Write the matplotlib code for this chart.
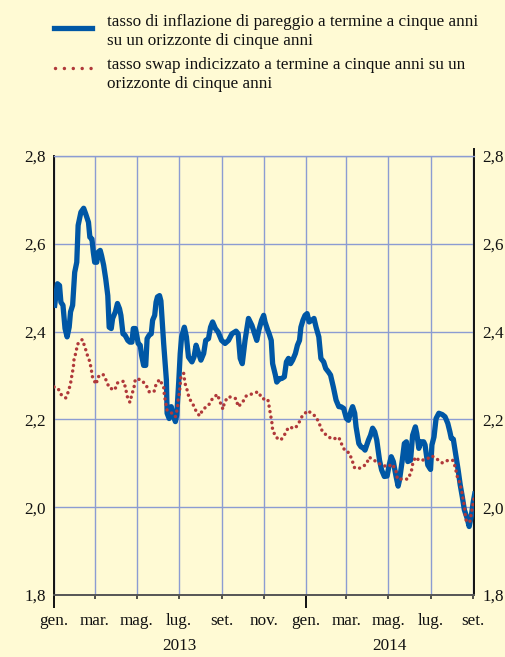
import numpy as np
import pandas as pd
import matplotlib
matplotlib.use('Agg')
import matplotlib.pyplot as plt
import matplotlib.dates as mdates
import matplotlib.transforms as mtransforms
from matplotlib.lines import Line2D
from matplotlib.ticker import FuncFormatter

plt.rcParams['font.family'] = ['Liberation Serif', 'DejaVu Serif']

# giorni dal 1 gennaio 2013
be_days = [1, 5, 8, 10, 13, 16, 19, 22, 24, 27, 30, 33, 35, 39, 43, 46, 50, 52, 55, 57,
           59, 62, 64, 67, 69, 72, 75, 78, 80, 83, 85, 89, 92, 95, 97, 100, 103, 107, 110, 113,
           115, 118, 120, 122, 125, 127, 130, 133, 135, 138, 141, 143, 146, 148, 150, 153, 155, 159, 163, 164,
           167, 170, 172, 176, 178, 181, 183, 185, 189, 192, 195, 200, 203, 206, 209, 213, 217, 220, 224, 227,
           230, 234, 238, 243, 248, 253, 258, 264, 267, 270, 273, 277, 282, 287, 291, 294, 297, 301, 304, 306,
           310, 312, 315, 317, 321, 323, 327, 330, 334, 337, 340, 343, 346, 350, 353, 356, 358, 361, 364, 367,
           370, 374, 377, 380, 384, 387, 391, 394, 398, 401, 405, 409, 413, 416, 420, 424, 427, 431, 433, 436,
           438, 442, 445, 449, 451, 456, 459, 462, 465, 468, 472, 475, 479, 483, 486, 489, 492, 496, 499, 501,
           505, 508, 511, 513, 517, 520, 524, 526, 529, 532, 536, 538, 542, 546, 548, 551, 554, 558, 563, 567,
           571, 574, 576, 579, 583, 586, 589, 592, 595, 599, 602, 605, 608, 610]
be_vals = [2.46, 2.509, 2.505, 2.467, 2.46, 2.407, 2.388, 2.41, 2.445, 2.46, 2.535, 2.558, 2.642, 2.672, 2.681, 2.668, 2.649, 2.615, 2.611, 2.581,
           2.558, 2.558, 2.581, 2.585, 2.573, 2.551, 2.52, 2.482, 2.41, 2.407, 2.43, 2.445, 2.464, 2.452, 2.437, 2.395, 2.392, 2.38, 2.376, 2.376,
           2.407, 2.407, 2.392, 2.373, 2.369, 2.346, 2.323, 2.323, 2.384, 2.392, 2.395, 2.426, 2.437, 2.467, 2.479, 2.482, 2.47, 2.373, 2.289, 2.214,
           2.202, 2.229, 2.214, 2.195, 2.21, 2.289, 2.35, 2.388, 2.41, 2.388, 2.342, 2.331, 2.342, 2.369, 2.354, 2.335, 2.35, 2.38, 2.384, 2.41,
           2.422, 2.407, 2.399, 2.38, 2.373, 2.38, 2.395, 2.401, 2.395, 2.339, 2.327, 2.38, 2.43, 2.414, 2.395, 2.38, 2.403, 2.426, 2.437, 2.422,
           2.403, 2.395, 2.38, 2.327, 2.301, 2.285, 2.293, 2.293, 2.297, 2.331, 2.339, 2.327, 2.335, 2.35, 2.369, 2.38, 2.41, 2.426, 2.437, 2.441,
           2.422, 2.426, 2.43, 2.41, 2.388, 2.339, 2.331, 2.316, 2.308, 2.301, 2.274, 2.244, 2.229, 2.229, 2.225, 2.202, 2.198, 2.221, 2.229, 2.214,
           2.183, 2.145, 2.138, 2.134, 2.13, 2.153, 2.164, 2.18, 2.172, 2.153, 2.107, 2.085, 2.07, 2.071, 2.096, 2.115, 2.104, 2.07, 2.048, 2.062,
           2.107, 2.145, 2.149, 2.104, 2.107, 2.164, 2.183, 2.168, 2.134, 2.149, 2.149, 2.142, 2.096, 2.086, 2.142, 2.16, 2.202, 2.214, 2.211, 2.206,
           2.191, 2.172, 2.157, 2.155, 2.115, 2.085, 2.051, 2.024, 1.994, 1.975, 1.956, 1.979, 2.013, 2.03]

sw_days = [0, 6, 11, 17, 21, 24, 26, 28, 29, 32, 34, 41, 45, 48, 52, 54, 56, 61, 64, 71,
           76, 80, 88, 92, 101, 104, 106, 110, 113, 116, 118, 125, 133, 138, 145, 148, 153, 159, 160, 162,
           164, 171, 176, 179, 180, 182, 183, 184, 188, 190, 193, 196, 201, 206, 211, 216, 224, 230, 237, 241,
           245, 247, 252, 258, 264, 267, 273, 279, 287, 296, 302, 310, 312, 314, 316, 317, 322, 329, 335, 340,
           350, 356, 360, 368, 375, 380, 385, 389, 397, 404, 413, 417, 422, 428, 432, 436, 444, 453, 457, 464,
           473, 483, 491, 496, 498, 505, 513, 518, 520, 524, 530, 540, 548, 554, 563, 570, 578, 582, 584, 588,
           591, 593, 595, 596, 598, 603, 605, 607, 609]
sw_vals = [2.274, 2.27, 2.255, 2.249, 2.264, 2.282, 2.301, 2.318, 2.336, 2.354, 2.371, 2.382, 2.364, 2.348, 2.331, 2.314, 2.295, 2.28, 2.297, 2.303,
           2.288, 2.272, 2.267, 2.283, 2.287, 2.27, 2.253, 2.239, 2.257, 2.273, 2.292, 2.291, 2.28, 2.263, 2.263, 2.28, 2.291, 2.274, 2.255, 2.238,
           2.221, 2.214, 2.206, 2.225, 2.244, 2.263, 2.28, 2.297, 2.305, 2.282, 2.267, 2.248, 2.236, 2.219, 2.208, 2.223, 2.232, 2.248, 2.257, 2.239,
           2.223, 2.238, 2.251, 2.251, 2.247, 2.229, 2.238, 2.254, 2.258, 2.263, 2.247, 2.246, 2.229, 2.21, 2.192, 2.176, 2.159, 2.153, 2.167, 2.182,
           2.18, 2.195, 2.208, 2.22, 2.212, 2.206, 2.189, 2.173, 2.161, 2.155, 2.159, 2.144, 2.128, 2.124, 2.108, 2.089, 2.089, 2.098, 2.114, 2.107,
           2.098, 2.092, 2.098, 2.081, 2.064, 2.064, 2.064, 2.08, 2.098, 2.114, 2.106, 2.109, 2.117, 2.111, 2.101, 2.106, 2.107, 2.091, 2.073, 2.057,
           2.039, 2.02, 2.004, 1.985, 1.967, 1.967, 1.985, 2.003, 2.02]

legend_labels = ['tasso di inflazione di pareggio a termine a cinque anni\nsu un orizzonte di cinque anni',
                 'tasso swap indicizzato a termine a cinque anni su un\norizzonte di cinque anni']
mesi = {1: 'gen.', 3: 'mar.', 5: 'mag.', 7: 'lug.', 9: 'set.', 11: 'nov.'}
anni = ['2013', '2014']

bg = '#FFFAD4'
blue = '#0057A5'
red = '#B0393A'
gridc = '#8C9CD2'
fs = 12.3

start = pd.Timestamp('2013-01-01')
be_x = start + pd.to_timedelta(be_days, unit='D')
sw_x = start + pd.to_timedelta(sw_days, unit='D')

fig = plt.figure(figsize=(5.06, 6.57), dpi=100, facecolor=bg)
ax = fig.add_axes([54/506, 1-595/657, 420/506, (595-156)/657], facecolor=bg)

ax.plot(be_x, be_vals, color=blue, lw=3.8, solid_joinstyle='round', zorder=3)
ax.plot(sw_x, sw_vals, color=red, lw=2.5, linestyle=(0, (0.01, 1.6)),
        dash_capstyle='round', zorder=4)

ax.set_xlim(start, pd.Timestamp('2014-09-02'))
ax.set_ylim(1.8, 2.8)
ax.set_yticks(np.arange(1.8, 2.81, 0.2))
ax.yaxis.set_major_formatter(FuncFormatter(lambda v, p: f'{v:.1f}'.replace('.', ',')))
ax.tick_params(axis='y', length=0, labelsize=fs, pad=6, labelright=True, labelcolor='#111111')

ax.xaxis.set_major_locator(mdates.MonthLocator(bymonth=[1, 3, 5, 7, 9, 11]))
ax.xaxis.set_major_formatter(FuncFormatter(lambda v, p: mesi[mdates.num2date(v).month]))
ax.xaxis.set_minor_locator(mdates.YearLocator())
ax.xaxis.remove_overlapping_locs = False
ax.tick_params(axis='x', which='major', length=3, width=1.2, color='#333333',
               labelsize=fs, pad=10, labelcolor='#111111')
ax.tick_params(axis='x', which='minor', length=9.5, width=1.4, color='#111111')

ax.grid(True, which='major', color=gridc, lw=1.0, zorder=1)
for s in ['left', 'right']:
    ax.spines[s].set_color('#111111')
    ax.spines[s].set_linewidth(1.4)
ax.spines['bottom'].set_color('#555555')
ax.spines['bottom'].set_linewidth(1.4)
ax.spines['top'].set_color(gridc)
ax.spines['top'].set_linewidth(1.0)
# asse destro che sporge sopra il riquadro
ax.add_line(Line2D([1, 1], [1, 1.016], transform=ax.transAxes, color='#111111',
                   lw=1.4, clip_on=False))

trans = mtransforms.blended_transform_factory(ax.transData, ax.transAxes)
ax.text(mdates.date2num(pd.Timestamp('2013-07-02')), -0.117, anni[0], transform=trans,
        ha='center', va='center', fontsize=fs, color='#111111')
ax.text(mdates.date2num(pd.Timestamp('2014-05-02')), -0.117, anni[1], transform=trans,
        ha='center', va='center', fontsize=fs, color='#111111')

# legenda
fig.add_artist(Line2D([54/506, 92/506], [1-28/657, 1-28/657], color=blue, lw=3.8,
                      transform=fig.transFigure))
fig.add_artist(Line2D([55/506, 91/506], [1-68/657, 1-68/657], color=red, lw=2.5,
                      linestyle=(0, (0.01, 2.55)), dash_capstyle='round',
                      transform=fig.transFigure))
fig.text(107/506, 1-14/657, legend_labels[0], ha='left', va='top', fontsize=fs,
         linespacing=1.27, color='#111111')
fig.text(107/506, 1-57/657, legend_labels[1], ha='left', va='top', fontsize=fs,
         linespacing=1.27, color='#111111')

fig.savefig('out.png', dpi=100, facecolor=bg)
